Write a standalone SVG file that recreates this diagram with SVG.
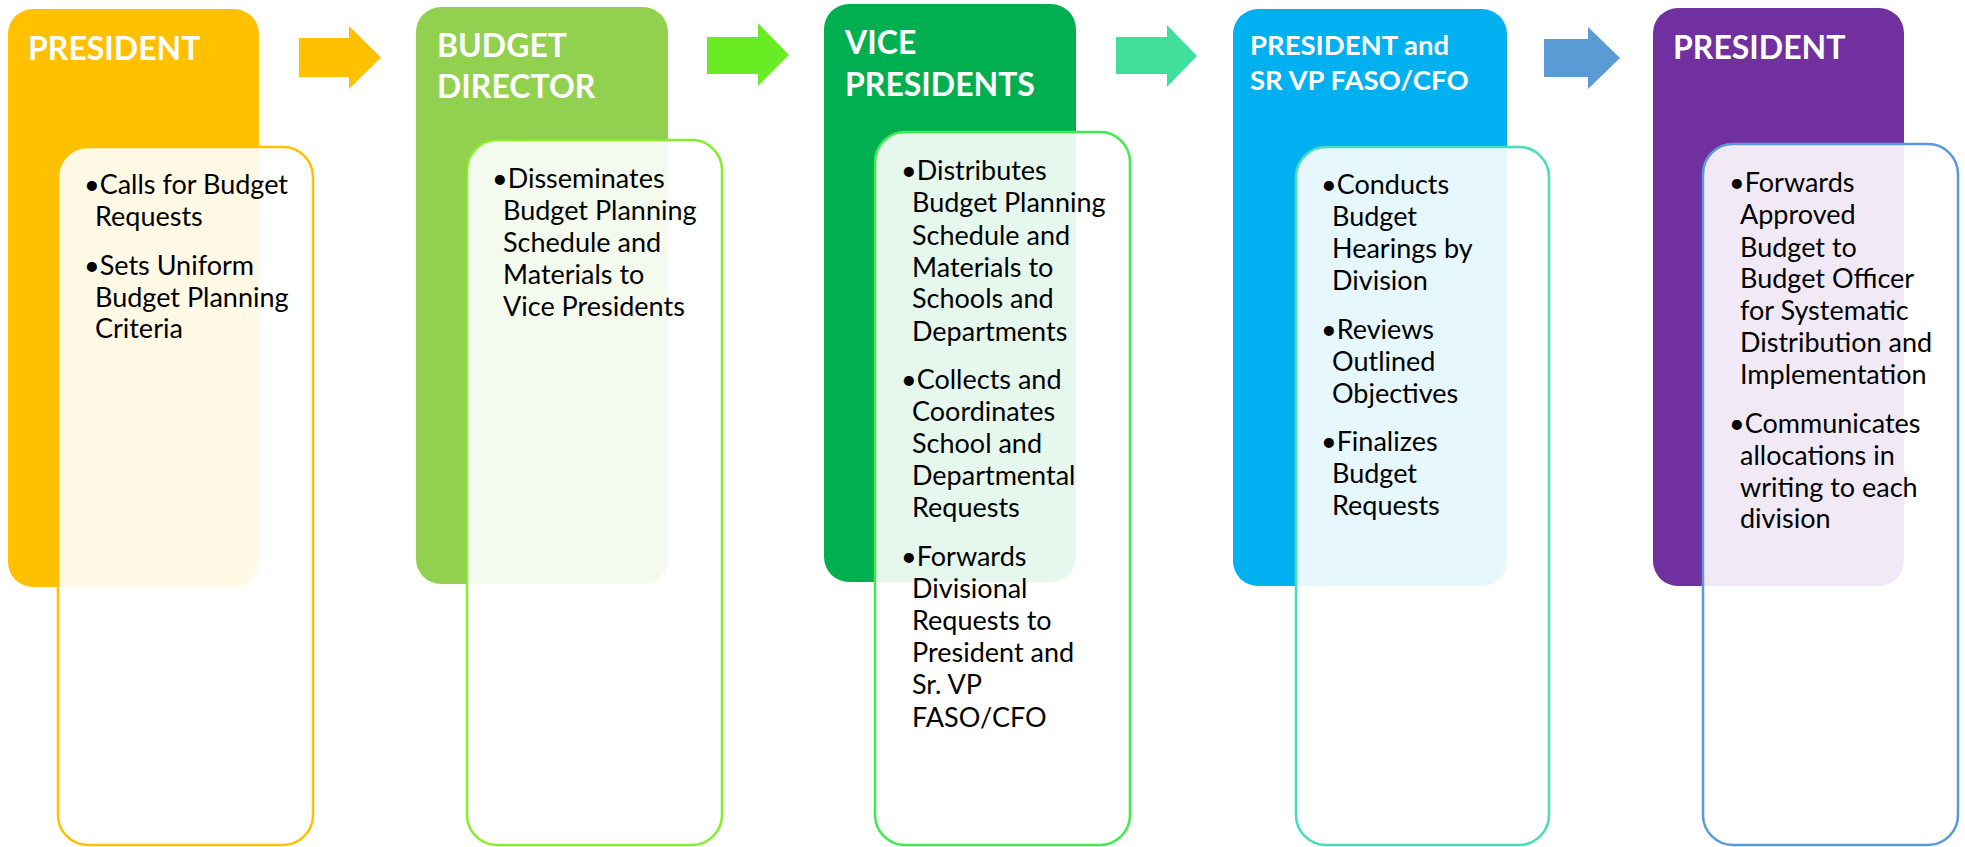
<svg xmlns="http://www.w3.org/2000/svg" width="1965" height="847" viewBox="0 0 1965 847">
<style>
.hdr{font-family:Lato,"Liberation Sans",sans-serif;font-weight:bold;fill:#fff;font-size:32px}
.hdr2{font-family:Lato,"Liberation Sans",sans-serif;font-weight:bold;fill:#fff;font-size:27.5px}
.body{font-family:Lato,"Liberation Sans",sans-serif;fill:#000;font-size:27px}
.card{fill:#fff;fill-opacity:0.9;stroke-width:2.5}
</style>
<rect width="1965" height="847" fill="#fff"/>
<g id="connectors">
<polygon points="299,38 349,38 349,26 381,57.5 349,89 349,77 299,77" fill="#FFC000"/>
<polygon points="707,37 758,37 758,23 789,55 758,86 758,74 707,74" fill="#6AEC24"/>
<polygon points="1116,37 1167,37 1167,25 1197,56 1167,87 1167,74 1116,74" fill="#40E09C"/>
<polygon points="1544,39 1588,39 1588,27 1620,58 1588,89 1588,77 1544,77" fill="#5B9BD5"/>
</g>
<g id="node1">
<rect x="8" y="9" width="251" height="578" rx="25" fill="#FFC000"/>
<text class="hdr" x="28" y="60">PRESIDENT</text>
<rect class="card" x="58" y="147" width="255" height="698" rx="30" stroke="#FFC000"/>
<text class="body"><tspan x="84" y="194">•Calls for Budget</tspan><tspan x="95" y="226">Requests</tspan><tspan x="84" y="275">•Sets Uniform</tspan><tspan x="95" y="307">Budget Planning</tspan><tspan x="95" y="338">Criteria</tspan></text>
</g>
<g id="node2">
<rect x="416" y="7" width="252" height="577" rx="25" fill="#92D050"/>
<text class="hdr" x="437" y="57">BUDGET<tspan x="437" y="98">DIRECTOR</tspan></text>
<rect class="card" x="467" y="140" width="255" height="705" rx="30" stroke="#86EC2C"/>
<text class="body"><tspan x="492" y="188">•Disseminates</tspan><tspan x="503" y="220">Budget Planning</tspan><tspan x="503" y="252">Schedule and</tspan><tspan x="503" y="284">Materials to</tspan><tspan x="503" y="316">Vice Presidents</tspan></text>
</g>
<g id="node3">
<rect x="824" y="4" width="252" height="578" rx="25" fill="#00B050"/>
<text class="hdr" x="845" y="54">VICE<tspan x="845" y="96">PRESIDENTS</tspan></text>
<rect class="card" x="875" y="132" width="255" height="713" rx="30" stroke="#3DEB4F"/>
<text class="body"><tspan x="901" y="180">•Distributes</tspan><tspan x="912" y="212">Budget Planning</tspan><tspan x="912" y="245">Schedule and</tspan><tspan x="912" y="277">Materials to</tspan><tspan x="912" y="308">Schools and</tspan><tspan x="912" y="341">Departments</tspan><tspan x="901" y="389">•Collects and</tspan><tspan x="912" y="421">Coordinates</tspan><tspan x="912" y="453">School and</tspan><tspan x="912" y="485">Departmental</tspan><tspan x="912" y="517">Requests</tspan><tspan x="901" y="566">•Forwards</tspan><tspan x="912" y="598">Divisional</tspan><tspan x="912" y="630">Requests to</tspan><tspan x="912" y="662">President and</tspan><tspan x="912" y="694">Sr. VP</tspan><tspan x="912" y="727">FASO/CFO</tspan></text>
</g>
<g id="node4">
<rect x="1233" y="9" width="274" height="577" rx="25" fill="#00B0F0"/>
<text class="hdr2" x="1250" y="55">PRESIDENT and<tspan x="1250" y="90">SR VP FASO/CFO</tspan></text>
<rect class="card" x="1296" y="147" width="253" height="698" rx="30" stroke="#45DDBA"/>
<text class="body"><tspan x="1321" y="194">•Conducts</tspan><tspan x="1332" y="226">Budget</tspan><tspan x="1332" y="258">Hearings by</tspan><tspan x="1332" y="290">Division</tspan><tspan x="1321" y="339">•Reviews</tspan><tspan x="1332" y="371">Outlined</tspan><tspan x="1332" y="403">Objectives</tspan><tspan x="1321" y="451">•Finalizes</tspan><tspan x="1332" y="483">Budget</tspan><tspan x="1332" y="515">Requests</tspan></text>
</g>
<g id="node5">
<rect x="1653" y="8" width="251" height="578" rx="25" fill="#7030A0"/>
<text class="hdr" x="1673" y="59">PRESIDENT</text>
<rect class="card" x="1703" y="144" width="255" height="701" rx="30" stroke="#5B9BD5"/>
<text class="body"><tspan x="1729" y="192">•Forwards</tspan><tspan x="1740" y="224">Approved</tspan><tspan x="1740" y="257">Budget to</tspan><tspan x="1740" y="288">Budget Officer</tspan><tspan x="1740" y="320">for Systematic</tspan><tspan x="1740" y="352">Distribution and</tspan><tspan x="1740" y="384">Implementation</tspan><tspan x="1729" y="433">•Communicates</tspan><tspan x="1740" y="465">allocations in</tspan><tspan x="1740" y="497">writing to each</tspan><tspan x="1740" y="528">division</tspan></text>
</g>
</svg>
